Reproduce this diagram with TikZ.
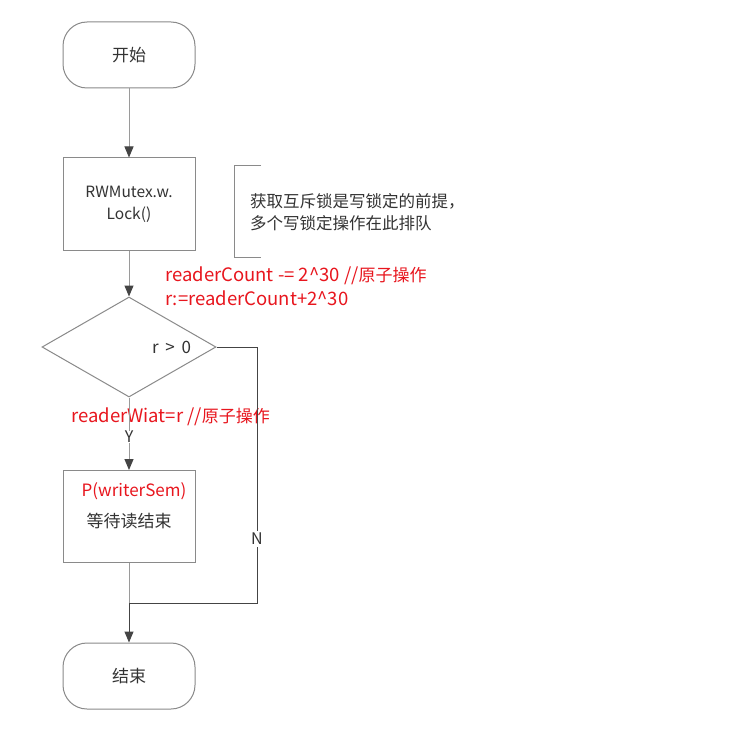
\documentclass[tikz,border=0pt]{standalone}
\usepackage{fontspec}
\setmainfont{Noto Sans CJK SC}
\usetikzlibrary{arrows.meta,shapes.geometric}
\definecolor{lineg}{HTML}{9A9A9A}
\definecolor{darkl}{HTML}{444444}
\definecolor{boxg}{HTML}{8A8A8A}
\definecolor{txt}{HTML}{333333}
\definecolor{redt}{HTML}{E8161E}
\newcommand{\zh}[1]{{\fontsize{17}{20}\selectfont #1}}
\tikzset{
  term/.style={draw=boxg, line width=1pt, rounded corners=24pt, minimum width=132pt, minimum height=66pt, inner sep=0pt, text=txt, font=\fontsize{17}{20}\selectfont},
  procbox/.style={draw=boxg, line width=1pt, minimum width=132pt, minimum height=92pt, inner sep=0pt, text=txt, font=\fontsize{15.5}{22}\selectfont, align=center},
  decis/.style={draw=boxg, line width=1pt, diamond, minimum width=174pt, minimum height=100pt, inner sep=0pt},
  flow/.style={draw=lineg, line width=1pt, -{Triangle[length=11pt,width=9pt,color=darkl]}},
  plain/.style={draw=darkl, line width=1pt},
  redlab/.style={text=redt, font=\fontsize{18.5}{22}\selectfont, inner sep=0pt, anchor=west},
  grylab/.style={text=txt, font=\fontsize{16}{20}\selectfont, inner sep=0pt},
}
\begin{document}
\begin{tikzpicture}[x=1pt,y=-1pt]
\useasboundingbox[fill=white] (0,0) rectangle (735,730);
\node[term] (start) at (129,55) {开始};
\node[procbox] (lock) at (129,204) {RWMutex.w.\\Lock()};
\node[decis] (dec) at (129,347) {};
\node[grylab, anchor=west, font=\fontsize{17}{20}\selectfont] (cond) at (152,347) {r \,>\, 0};
\node[procbox] (wait) at (129,516.5) {};
\node[redlab, anchor=center, font=\fontsize{17}{20}\selectfont] (psem) at (134,491) {P(writerSem)};
\node[grylab, font=\fontsize{17}{20}\selectfont] (waittxt) at (129,521) {等待读结束};
\node[term] (end) at (129,676) {结束};

\coordinate (bt) at (261,165);
\coordinate (bb) at (261,257);
\draw[draw=boxg, line width=1pt] (bt) -| (234,257) -- (bb);
\node[grylab, anchor=west, align=left, font=\fontsize{16.5}{22}\selectfont] (note) at (250,212) {获取互斥锁是写锁定的前提，\\多个写锁定操作在此排队};

\node[redlab] (rc1) at (165,276) {readerCount -= 2\^{}30 //\zh{原子操作}};
\node[redlab] (rc2) at (165,298) {r:=readerCount+2\^{}30};
\node[redlab] (rw) at (71,417) {readerWiat=r //\zh{原子操作}};
\node[grylab] (ylab) at (129,437) {Y};

\coordinate (nr) at (257,347);
\coordinate (nb) at (257,603);
\coordinate (mj) at (129,603);
\node[grylab, fill=white, inner sep=2pt] (nlab) at (257,539) {N};

\draw[flow] (start) -- (lock);
\draw[flow] (lock) -- (dec.north);
\draw[flow] (dec.south) -- (ylab) -- (wait);
\draw[draw=lineg, line width=1pt] (wait) -- (mj);
\draw[plain] (dec.east) -- (nr) -- (nlab);
\draw[plain] (nlab) -- (nb) -- (mj);
\draw[flow, draw=darkl] (mj) -- (end);
\end{tikzpicture}
\end{document}
